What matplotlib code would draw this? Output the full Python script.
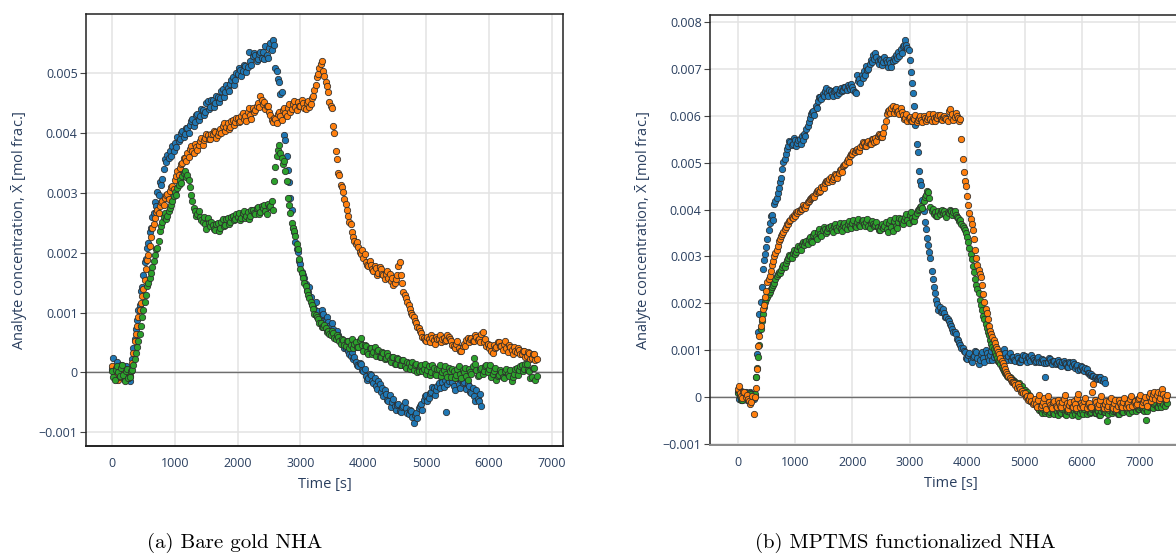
import numpy as np
import matplotlib
matplotlib.use("Agg")
from matplotlib import pyplot as plt
from matplotlib.ticker import FuncFormatter

# concentrations stored in units of 1e-3 mol frac., one sample every 20 s
SCALE = 1e-3

# ---- (a) bare gold NHA ----
t_end_a_blue = 5880
a_blue = [
    0.05, 0.24, -0.10, 0.06, 0.18, -0.08, -0.04, 0.12, 0.08, -0.02, -0.12, 0.10, 0.03, -0.06, -0.14, 0.05, 0.22, 0.40, 0.55, 0.72,
    0.88, 1.04, 1.12, 1.36, 1.42, 1.62, 1.85, 1.90, 2.08, 2.16, 2.34, 2.42, 2.60, 2.66, 2.84, 2.78, 3.02, 2.96, 3.18, 3.14,
    3.24, 3.40, 3.56, 3.52, 3.64, 3.58, 3.70, 3.62, 3.78, 3.70, 3.84, 3.76, 3.94, 3.86, 3.90, 4.00, 4.04, 3.94, 3.98, 4.08,
    4.08, 4.00, 4.14, 4.20, 4.24, 4.12, 4.18, 4.30, 4.32, 4.22, 4.28, 4.40, 4.38, 4.30, 4.36, 4.50, 4.54, 4.40, 4.44, 4.56,
    4.56, 4.44, 4.50, 4.62, 4.60, 4.52, 4.58, 4.70, 4.74, 4.60, 4.68, 4.80, 4.76, 4.70, 4.82, 4.88, 4.94, 4.80, 4.88, 5.00,
    4.98, 5.08, 5.06, 4.96, 5.04, 5.14, 5.12, 5.02, 5.10, 5.36, 5.20, 5.14, 5.28, 5.34, 5.30, 5.20, 5.24, 5.32, 5.36, 5.26,
    5.36, 5.24, 5.46, 5.30, 5.26, 5.42, 5.50, 5.38, 5.56, 5.48, 5.08, 5.04, 4.90, 4.86, 4.66, 4.68, 4.32, 3.96, 3.88, 3.62,
    3.38, 3.18, 2.92, 2.72, 2.42, 2.34, 2.18, 2.06, 2.02, 1.86, 1.82, 1.68, 1.62, 1.58, 1.48, 1.38, 1.35, 1.42, 1.26, 1.14,
    1.12, 1.06, 1.18, 1.00, 1.02, 0.94, 0.96, 1.04, 0.98, 0.86, 0.86, 0.92, 0.84, 0.78, 0.76, 0.82, 0.72, 0.66, 0.64, 0.70,
    0.62, 0.56, 0.52, 0.48, 0.48, 0.40, 0.40, 0.44, 0.36, 0.30, 0.28, 0.34, 0.22, 0.26, 0.18, 0.12, 0.10, 0.16, 0.14, 0.04,
    0.02, 0.06, -0.06, -0.12, -0.10, -0.02, -0.04, -0.14, -0.18, -0.10, -0.22, -0.28, -0.14, -0.20, -0.32, -0.26, -0.40, -0.30, -0.36, -0.46,
    -0.48, -0.38, -0.58, -0.50, -0.44, -0.56, -0.62, -0.54, -0.52, -0.64, -0.66, -0.58, -0.56, -0.50, -0.60, -0.68, -0.70, -0.62, -0.64, -0.74,
    -0.84, -0.72, -0.68, -0.76, -0.60, -0.56, -0.52, -0.62, -0.46, -0.40, -0.38, -0.48, -0.42, -0.34, -0.32, -0.24, -0.26, -0.38, -0.30, -0.22,
    -0.18, -0.26, -0.08, -0.16, -0.24, -0.12, -0.66, -0.20, -0.14, -0.06, -0.04, -0.16, -0.22, -0.30, -0.10, -0.02, -0.20, -0.26, -0.12, -0.18,
    -0.16, -0.08, -0.28, -0.20, -0.22, -0.32, -0.34, -0.26, -0.40, -0.48, -0.30, -0.44, -0.48, -0.36, -0.56,
]
t_end_a_orange = 6760
a_orange = [
    0.10, 0.02, -0.05, 0.08, 0.02, -0.12, -0.08, 0.04, 0.04, -0.06, -0.10, 0.06, 0.00, -0.10, -0.06, 0.02, 0.15, 0.32, 0.52, 0.64,
    0.78, 0.92, 1.05, 1.16, 1.28, 1.40, 1.55, 1.72, 1.88, 1.96, 2.12, 2.26, 2.42, 2.48, 2.58, 2.68, 2.72, 2.66, 2.78, 2.84,
    2.86, 2.80, 2.92, 2.96, 2.98, 2.90, 3.04, 3.10, 3.12, 3.06, 3.22, 3.28, 3.36, 3.30, 3.42, 3.48, 3.50, 3.58, 3.58, 3.54,
    3.66, 3.60, 3.74, 3.78, 3.70, 3.66, 3.82, 3.76, 3.72, 3.80, 3.86, 3.92, 3.80, 3.88, 3.92, 3.98, 3.96, 3.90, 3.90, 3.98,
    3.98, 4.04, 4.02, 3.92, 3.96, 4.02, 4.06, 4.00, 4.12, 4.16, 4.04, 4.10, 4.16, 4.06, 4.10, 4.20, 4.22, 4.14, 4.18, 4.26,
    4.26, 4.18, 4.20, 4.28, 4.34, 4.24, 4.28, 4.20, 4.36, 4.42, 4.30, 4.24, 4.42, 4.36, 4.38, 4.46, 4.50, 4.44, 4.62, 4.56,
    4.48, 4.52, 4.40, 4.46, 4.46, 4.36, 4.30, 4.22, 4.18, 4.26, 4.24, 4.16, 4.32, 4.36, 4.28, 4.22, 4.38, 4.42, 4.34, 4.28,
    4.42, 4.48, 4.36, 4.40, 4.48, 4.54, 4.44, 4.38, 4.52, 4.46, 4.46, 4.56, 4.50, 4.42, 4.40, 4.50, 4.54, 4.44, 4.48, 4.58,
    4.62, 4.72, 4.80, 4.94, 4.98, 5.08, 5.16, 5.20, 5.04, 4.96, 4.86, 4.78, 4.68, 4.52, 4.46, 4.42, 4.12, 4.00, 3.70, 3.56,
    3.34, 3.30, 3.14, 3.10, 3.02, 2.90, 2.82, 2.72, 2.62, 2.52, 2.48, 2.34, 2.26, 2.20, 2.14, 2.18, 2.10, 2.02, 1.98, 2.04,
    1.92, 1.98, 1.84, 1.80, 1.78, 1.86, 1.80, 1.72, 1.70, 1.78, 1.74, 1.62, 1.66, 1.76, 1.72, 1.64, 1.62, 1.56, 1.64, 1.70,
    1.58, 1.64, 1.52, 1.58, 1.46, 1.50, 1.56, 1.62, 1.78, 1.84, 1.62, 1.50, 1.34, 1.30, 1.24, 1.18, 1.12, 1.06, 1.00, 0.96,
    0.92, 0.86, 0.82, 0.76, 0.74, 0.70, 0.66, 0.60, 0.58, 0.54, 0.52, 0.60, 0.56, 0.50, 0.62, 0.58, 0.54, 0.48, 0.60, 0.56,
    0.56, 0.62, 0.50, 0.56, 0.58, 0.52, 0.54, 0.62, 0.60, 0.56, 0.52, 0.46, 0.44, 0.40, 0.48, 0.52, 0.40, 0.36, 0.36, 0.44,
    0.48, 0.44, 0.54, 0.58, 0.50, 0.56, 0.58, 0.52, 0.52, 0.62, 0.60, 0.54, 0.56, 0.50, 0.64, 0.68, 0.50, 0.56, 0.44, 0.48,
    0.40, 0.46, 0.36, 0.32, 0.46, 0.40, 0.42, 0.50, 0.50, 0.44, 0.44, 0.38, 0.48, 0.52, 0.40, 0.34, 0.46, 0.42, 0.38, 0.30,
    0.42, 0.36, 0.34, 0.40, 0.38, 0.30, 0.30, 0.36, 0.36, 0.26, 0.28, 0.34, 0.32, 0.22, 0.24, 0.30, 0.30, 0.20, 0.22,
]
t_end_a_green = 6760
a_green = [
    0.02, -0.08, -0.12, 0.04, 0.10, 0.00, -0.06, 0.08, 0.12, -0.04, -0.14, 0.02, 0.06, -0.10, -0.08, 0.02, 0.04, 0.12, 0.22, 0.32,
    0.42, 0.52, 0.64, 0.78, 0.92, 1.04, 1.18, 1.30, 1.44, 1.50, 1.58, 1.66, 1.76, 1.86, 1.96, 2.06, 2.08, 2.20, 2.36, 2.44,
    2.52, 2.60, 2.66, 2.56, 2.62, 2.70, 2.74, 2.80, 2.86, 2.94, 3.02, 2.96, 3.08, 3.14, 3.22, 3.16, 3.28, 3.34, 3.36, 3.26,
    3.30, 3.22, 3.10, 2.96, 2.86, 2.74, 2.70, 2.62, 2.64, 2.70, 2.60, 2.54, 2.52, 2.60, 2.48, 2.40, 2.58, 2.50, 2.44, 2.52,
    2.46, 2.40, 2.38, 2.48, 2.50, 2.36, 2.42, 2.52, 2.56, 2.44, 2.46, 2.56, 2.58, 2.48, 2.52, 2.60, 2.62, 2.54, 2.56, 2.64,
    2.60, 2.66, 2.54, 2.58, 2.66, 2.70, 2.58, 2.62, 2.68, 2.56, 2.62, 2.72, 2.72, 2.66, 2.64, 2.74, 2.76, 2.64, 2.68, 2.78,
    2.74, 2.80, 2.70, 2.64, 2.82, 2.76, 2.78, 2.86, 2.72, 3.20, 3.44, 3.62, 3.72, 3.80, 3.66, 3.58, 3.48, 3.54, 3.36, 3.20,
    2.92, 2.80, 2.66, 2.50, 2.42, 2.36, 2.28, 2.14, 2.06, 1.90, 1.72, 1.66, 1.58, 1.50, 1.44, 1.36, 1.30, 1.24, 1.18, 1.12,
    1.06, 0.98, 0.96, 0.92, 0.90, 0.82, 0.82, 0.76, 0.76, 0.80, 0.74, 0.68, 0.70, 0.64, 0.62, 0.70, 0.66, 0.58, 0.56, 0.62,
    0.60, 0.52, 0.48, 0.56, 0.54, 0.46, 0.44, 0.52, 0.52, 0.40, 0.46, 0.56, 0.40, 0.48, 0.50, 0.42, 0.42, 0.54, 0.58, 0.46,
    0.36, 0.46, 0.44, 0.34, 0.30, 0.40, 0.40, 0.30, 0.34, 0.42, 0.28, 0.36, 0.38, 0.26, 0.26, 0.34, 0.32, 0.22, 0.24, 0.32,
    0.28, 0.20, 0.18, 0.26, 0.26, 0.14, 0.14, 0.24, 0.22, 0.12, 0.12, 0.20, 0.20, 0.10, 0.08, 0.18, 0.16, 0.06, 0.10, 0.18,
    0.04, 0.12, 0.14, 0.00, 0.02, 0.10, 0.12, 0.02, 0.06, 0.14, -0.02, 0.04, 0.10, -0.04, 0.00, 0.12, 0.08, -0.02, -0.04, 0.06,
    0.06, 0.12, -0.06, 0.00, 0.04, 0.10, -0.02, -0.08, 0.08, 0.02, -0.08, 0.06, 0.02, -0.10, -0.04, 0.06, 0.10, -0.02, -0.10, 0.04,
    0.00, 0.08, -0.06, -0.12, 0.06, 0.00, -0.02, 0.10, 0.24, 0.14, 0.04, -0.06, -0.04, 0.06, 0.08, -0.02, 0.02, 0.10, 0.12, 0.00,
    0.06, 0.12, -0.08, -0.02, 0.02, 0.08, -0.12, -0.06, -0.04, 0.04, 0.00, -0.08, -0.10, 0.02, 0.06, -0.02, -0.06, 0.04, -0.14, -0.08,
    -0.02, 0.06, 0.08, -0.04, 0.04, 0.10, 0.12, 0.02, 0.06, 0.14, 0.14, 0.04, 0.02, -0.10, -0.08, 0.08, 0.08, -0.12, -0.06,
]

# ---- (b) MPTMS functionalized NHA ----
t_end_b_blue = 6400
b_blue = [
    0.10, -0.04, 0.04, 0.14, -0.06, 0.02, 0.08, 0.12, -0.06, 0.00, 0.04, 0.10, -0.02, 0.06, -0.04, 0.02, 0.44, 0.92, 1.40, 1.78,
    2.02, 2.36, 2.74, 2.92, 3.06, 3.20, 3.38, 3.56, 3.72, 3.86, 3.88, 3.78, 4.12, 4.18, 4.24, 4.36, 4.46, 4.58, 4.68, 4.86,
    5.02, 5.08, 5.18, 5.30, 5.36, 5.46, 5.44, 5.38, 5.40, 5.52, 5.48, 5.36, 5.42, 5.48, 5.50, 5.40, 5.56, 5.48, 5.62, 5.56,
    5.72, 5.78, 5.86, 5.96, 6.04, 6.08, 6.10, 6.02, 6.22, 6.16, 6.32, 6.40, 6.40, 6.36, 6.46, 6.42, 6.52, 6.60, 6.48, 6.42,
    6.56, 6.52, 6.46, 6.42, 6.52, 6.56, 6.58, 6.44, 6.48, 6.56, 6.60, 6.52, 6.54, 6.62, 6.62, 6.56, 6.66, 6.62, 6.58, 6.68,
    6.62, 6.54, 6.50, 6.48, 6.88, 6.74, 6.78, 6.70, 6.86, 6.80, 6.96, 6.86, 7.06, 6.98, 7.00, 7.10, 7.18, 7.14, 7.30, 7.22,
    7.34, 7.26, 7.16, 7.10, 7.22, 7.18, 7.08, 7.14, 7.26, 7.20, 7.14, 7.04, 7.20, 7.12, 7.04, 7.16, 7.24, 7.18, 7.30, 7.24,
    7.36, 7.28, 7.42, 7.34, 7.48, 7.52, 7.62, 7.50, 7.44, 7.40, 7.18, 6.94, 6.70, 6.48, 6.22, 5.80, 5.40, 5.22, 4.82, 4.60,
    4.52, 4.20, 3.96, 3.74, 3.58, 3.40, 3.24, 3.10, 2.96, 2.70, 2.52, 2.36, 2.22, 2.08, 1.98, 1.86, 1.92, 1.82, 1.84, 1.88,
    1.80, 1.72, 1.70, 1.66, 1.62, 1.56, 1.52, 1.46, 1.40, 1.38, 1.34, 1.24, 1.22, 1.16, 1.12, 1.04, 1.04, 0.98, 0.96, 0.84,
    0.82, 0.90, 0.94, 0.80, 0.76, 0.86, 0.88, 0.98, 0.96, 0.84, 0.70, 0.80, 0.92, 0.96, 0.84, 0.76, 1.00, 0.94, 0.86, 0.80,
    0.90, 0.98, 0.80, 0.86, 0.96, 0.90, 0.86, 0.78, 0.78, 0.84, 0.92, 0.86, 1.02, 0.94, 0.84, 0.80, 0.88, 0.94, 0.80, 0.86,
    0.86, 0.80, 0.78, 0.88, 0.84, 0.76, 0.74, 0.82, 0.82, 0.90, 0.88, 0.80, 0.76, 0.86, 0.84, 0.78, 0.90, 0.84, 0.80, 0.74,
    0.78, 0.84, 0.86, 0.76, 0.74, 0.82, 0.80, 0.72, 0.44, 0.72, 0.76, 0.84, 0.82, 0.74, 0.70, 0.78, 0.78, 0.70, 0.72, 0.80,
    0.74, 0.68, 0.66, 0.76, 0.78, 0.72, 0.70, 0.64, 0.64, 0.74, 0.72, 0.66, 0.76, 0.70, 0.62, 0.66, 0.68, 0.58, 0.60, 0.66,
    0.64, 0.58, 0.56, 0.62, 0.60, 0.52, 0.52, 0.48, 0.50, 0.46, 0.46, 0.40, 0.44, 0.38, 0.40, 0.44, 0.42, 0.36, 0.34, 0.38,
    0.30,
]
t_end_b_orange = 7480
b_orange = [
    0.18, 0.24, 0.08, 0.02, -0.02, 0.10, 0.12, 0.00, 0.04, -0.04, -0.08, -0.14, -0.10, 0.02, -0.35, 0.00, 0.20, 0.60, 1.10, 1.30,
    1.52, 1.66, 1.88, 1.96, 2.14, 2.26, 2.46, 2.52, 2.58, 2.70, 2.82, 2.90, 3.02, 3.08, 3.14, 3.22, 3.32, 3.38, 3.44, 3.48,
    3.52, 3.58, 3.62, 3.70, 3.70, 3.76, 3.78, 3.84, 3.82, 3.88, 3.86, 3.94, 3.92, 3.98, 3.96, 4.02, 4.02, 4.10, 4.06, 4.04,
    4.10, 4.16, 4.18, 4.22, 4.24, 4.26, 4.30, 4.26, 4.36, 4.40, 4.42, 4.38, 4.40, 4.48, 4.50, 4.46, 4.56, 4.60, 4.62, 4.58,
    4.66, 4.70, 4.60, 4.66, 4.70, 4.76, 4.74, 4.68, 4.78, 4.84, 4.86, 4.80, 4.92, 4.96, 4.98, 5.04, 5.08, 5.02, 5.14, 5.18,
    5.18, 5.24, 5.22, 5.28, 5.30, 5.24, 5.26, 5.34, 5.38, 5.44, 5.42, 5.36, 5.36, 5.44, 5.46, 5.40, 5.40, 5.50, 5.50, 5.44,
    5.52, 5.46, 5.58, 5.62, 5.60, 5.54, 5.54, 5.64, 5.76, 5.90, 6.04, 6.10, 6.12, 6.06, 6.16, 6.20, 6.06, 6.14, 6.18, 6.08,
    6.10, 6.04, 6.16, 6.08, 6.02, 5.94, 5.96, 6.04, 5.90, 5.96, 5.98, 5.88, 5.88, 5.96, 5.94, 6.02, 5.86, 5.92, 5.96, 6.00,
    5.92, 5.86, 6.00, 5.96, 5.88, 5.94, 5.98, 6.04, 5.94, 5.90, 6.04, 5.96, 5.90, 5.98, 5.96, 6.02, 6.02, 5.94, 5.92, 5.98,
    6.00, 5.96, 5.94, 5.88, 6.10, 6.14, 5.98, 6.04, 5.92, 5.98, 6.06, 6.00, 5.96, 5.90, 5.94, 5.50, 5.08, 4.80, 4.62, 4.50,
    4.28, 4.10, 3.92, 3.80, 3.70, 3.56, 3.38, 3.14, 2.96, 2.82, 2.72, 2.62, 2.56, 2.40, 2.20, 2.04, 1.88, 1.80, 1.66, 1.52,
    1.42, 1.34, 1.28, 1.22, 1.16, 1.08, 1.02, 0.96, 0.92, 0.84, 0.78, 0.72, 0.66, 0.60, 0.54, 0.50, 0.46, 0.40, 0.36, 0.32,
    0.32, 0.30, 0.26, 0.20, 0.28, 0.22, 0.18, 0.10, 0.14, 0.08, 0.08, 0.00, 0.02, -0.06, -0.04, 0.02, -0.08, -0.14, -0.12, -0.04,
    -0.14, -0.20, -0.06, 0.04, -0.22, -0.16, -0.10, -0.02, -0.18, -0.26, 0.02, -0.10, -0.16, -0.22, -0.24, -0.10, -0.08, -0.18, -0.20, -0.06,
    -0.12, -0.18, -0.22, -0.10, -0.04, 0.04, -0.18, -0.12, -0.26, -0.16, -0.10, -0.22, -0.20, -0.08, -0.14, -0.24, -0.02, 0.06, -0.22, -0.12,
    -0.16, -0.22, -0.08, -0.02, -0.24, -0.14, -0.12, -0.20, -0.20, 0.12, 0.28, -0.06, -0.10, -0.18, -0.22, -0.14, -0.06, 0.02, -0.18, -0.24,
    -0.14, -0.08, -0.24, -0.18, -0.08, -0.02, -0.20, -0.24, -0.12, -0.06, -0.26, -0.18, -0.06, -0.12, -0.18, -0.22, -0.10, -0.02, -0.22, -0.14,
    -0.12, -0.20, -0.04, 0.02, -0.18, -0.10, -0.08, -0.16, -0.14, -0.04, -0.02, 0.04, -0.16, -0.10, -0.06, 0.00, -0.12, -0.18, 0.02, 0.08,
    -0.08, -0.02, 0.06, 0.12, -0.04, 0.04, 0.10, -0.06, -0.02, 0.08, 0.18, 0.06, 0.00, -0.04, 0.04,
]
t_end_b_green = 7480
b_green = [
    0.08, 0.14, 0.02, -0.06, -0.06, 0.04, 0.10, 0.02, 0.04, -0.04, -0.02, 0.08, 0.06, -0.04, 0.00, 0.06, 0.42, 0.62, 0.85, 1.12,
    1.46, 1.62, 1.78, 1.92, 2.04, 2.10, 2.14, 2.20, 2.24, 2.30, 2.36, 2.40, 2.44, 2.52, 2.58, 2.62, 2.66, 2.64, 2.72, 2.78,
    2.82, 2.78, 2.86, 2.92, 2.96, 3.04, 3.00, 2.96, 3.08, 3.14, 3.06, 3.10, 3.16, 3.22, 3.20, 3.14, 3.26, 3.30, 3.24, 3.30,
    3.32, 3.26, 3.38, 3.42, 3.34, 3.30, 3.46, 3.50, 3.42, 3.38, 3.52, 3.58, 3.48, 3.44, 3.56, 3.62, 3.58, 3.50, 3.54, 3.60,
    3.62, 3.66, 3.56, 3.52, 3.64, 3.70, 3.60, 3.56, 3.66, 3.72, 3.58, 3.54, 3.68, 3.72, 3.62, 3.58, 3.70, 3.76, 3.64, 3.60,
    3.72, 3.78, 3.66, 3.62, 3.74, 3.80, 3.68, 3.64, 3.76, 3.78, 3.70, 3.64, 3.74, 3.80, 3.66, 3.60, 3.72, 3.76, 3.70, 3.64,
    3.68, 3.74, 3.62, 3.56, 3.56, 3.66, 3.70, 3.60, 3.64, 3.74, 3.58, 3.52, 3.72, 3.78, 3.62, 3.54, 3.76, 3.82, 3.66, 3.60,
    3.74, 3.82, 3.80, 3.72, 3.70, 3.78, 3.84, 3.90, 3.78, 3.72, 3.88, 3.94, 3.82, 3.76, 3.76, 3.86, 3.92, 4.00, 4.02, 4.06,
    4.08, 4.04, 4.18, 4.26, 4.32, 4.40, 4.38, 4.24, 4.06, 3.98, 4.02, 3.90, 3.94, 3.86, 3.86, 3.96, 3.90, 3.98, 4.00, 3.92,
    3.96, 3.90, 3.84, 3.94, 3.92, 4.00, 3.98, 3.88, 3.94, 3.98, 3.88, 3.84, 3.82, 3.76, 3.78, 3.70, 3.66, 3.60, 3.56, 3.50,
    3.42, 3.30, 3.18, 3.06, 2.94, 2.80, 2.66, 2.52, 2.40, 2.30, 2.22, 2.08, 1.96, 1.86, 1.74, 1.66, 1.56, 1.48, 1.40, 1.32,
    1.22, 1.14, 1.08, 1.02, 0.96, 0.90, 0.84, 0.78, 0.74, 0.70, 0.64, 0.60, 0.56, 0.52, 0.50, 0.46, 0.42, 0.44, 0.40, 0.36,
    0.36, 0.34, 0.32, 0.26, 0.28, 0.30, 0.22, 0.20, 0.24, 0.14, 0.16, 0.06, 0.10, 0.00, 0.04, -0.08, -0.04, -0.12, -0.10, -0.14,
    -0.16, -0.22, -0.24, -0.28, -0.30, -0.34, -0.26, -0.22, -0.34, -0.30, -0.28, -0.36, -0.32, -0.24, -0.26, -0.34, -0.36, -0.28, -0.30, -0.38,
    -0.28, -0.32, -0.34, -0.26, -0.26, -0.36, -0.38, -0.30, -0.30, -0.24, -0.32, -0.38, -0.24, -0.30, -0.36, -0.28, -0.28, -0.40, -0.34, -0.26,
    -0.30, -0.36, -0.26, -0.22, -0.36, -0.30, -0.28, -0.34, -0.32, -0.26, -0.24, -0.34, -0.34, -0.28, -0.30, -0.38, -0.38, -0.30, -0.26, -0.32,
    -0.32, -0.28, -0.50, -0.36, -0.28, -0.24, -0.34, -0.30, -0.22, -0.30, -0.30, -0.36, -0.36, -0.28, -0.26, -0.32, -0.32, -0.22, -0.24, -0.30,
    -0.28, -0.34, -0.20, -0.26, -0.30, -0.22, -0.24, -0.30, -0.18, -0.26, -0.26, -0.20, -0.22, -0.28, -0.30, -0.24, -0.48, -0.30, -0.20, -0.14,
    -0.16, -0.22, -0.24, -0.14, -0.12, -0.20, -0.20, -0.10, -0.14, -0.22, -0.08, -0.14, -0.18, -0.10, -0.12,
]

x_ticks = [0, 1000, 2000, 3000, 4000, 5000, 6000, 7000]
y_ticks_a = [-0.001, 0, 0.001, 0.002, 0.003, 0.004, 0.005]
y_ticks_b = [-0.001, 0, 0.001, 0.002, 0.003, 0.004, 0.005, 0.006, 0.007, 0.008]

BLUE, ORANGE, GREEN = "#1f77b4", "#ff7f0e", "#2ca02c"
TEXT = "#2a3f5f"

plt.rcParams["font.family"] = ["Open Sans", "DejaVu Sans"]
plt.rcParams["mathtext.fontset"] = "custom"
plt.rcParams["mathtext.rm"] = "Open Sans"
plt.rcParams["mathtext.it"] = "Open Sans"


def y_fmt(v, pos):
    if abs(v) < 1e-12:
        return "0"
    return ("%.3f" % v).replace("-", "\u2212")


def x_fmt(v, pos):
    return "%d" % v


def style_axes(ax, xlim, ylim, yticks, bottom_col):
    ax.set_xlim(*xlim)
    ax.set_ylim(*ylim)
    ax.set_xticks(x_ticks)
    ax.set_yticks(yticks)
    ax.xaxis.set_major_formatter(FuncFormatter(x_fmt))
    ax.yaxis.set_major_formatter(FuncFormatter(y_fmt))
    ax.grid(True, color="#e3e3e3", linewidth=1.1, zorder=0)
    ax.set_axisbelow(True)
    ax.axhline(0, color="#6e6e6e", linewidth=1.0, zorder=1)
    for s in ["top", "left", "right"]:
        ax.spines[s].set_color("#222222")
        ax.spines[s].set_linewidth(1.1)
    ax.spines["bottom"].set_color(bottom_col)
    ax.spines["bottom"].set_linewidth(1.4)
    ax.tick_params(axis="y", length=4, width=0.8, color="#444444",
                   labelsize=9, labelcolor=TEXT, pad=2)
    ax.tick_params(axis="x", length=0, labelsize=9, labelcolor=TEXT, pad=8)
    ax.set_xlabel("Time [s]", fontsize=10.5, color=TEXT, labelpad=5)
    ax.set_ylabel(r"Analyte concentration, $\mathrm{\bar{X}}$ [mol frac.]",
                  fontsize=10.5, color=TEXT, labelpad=6)


def dots(ax, t_end, vals, col, z):
    y = np.array(vals) * SCALE
    t = np.linspace(0, t_end, len(y))
    ax.scatter(t, y, s=21, c=col, edgecolors="#2b2b2b", linewidths=0.55,
               zorder=z)


fig = plt.figure(figsize=(11.76, 5.6), dpi=100)

ax1 = fig.add_axes([86 / 1176, 1 - 446 / 560, 477 / 1176, 432 / 560])
style_axes(ax1, (-415, 7180), (-0.00123, 0.00599), y_ticks_a, "#222222")
dots(ax1, t_end_a_blue, a_blue, BLUE, 2)
dots(ax1, t_end_a_orange, a_orange, ORANGE, 3)
dots(ax1, t_end_a_green, a_green, GREEN, 4)

ax2 = fig.add_axes([710 / 1176, 1 - 445 / 560, 481 / 1176, 430 / 560])
style_axes(ax2, (-480, 7900), (-0.00102, 0.00815), y_ticks_b, "#8a8a8a")
dots(ax2, t_end_b_blue, b_blue, BLUE, 2)
dots(ax2, t_end_b_green, b_green, GREEN, 3)
dots(ax2, t_end_b_orange, b_orange, ORANGE, 4)

fig.text(235 / 1176, 1 - 543 / 560, "(a) Bare gold NHA", ha="center",
         va="center", fontsize=15, family="cmr10")
fig.text(905 / 1176, 1 - 543 / 560, "(b) MPTMS functionalized NHA",
         ha="center", va="center", fontsize=15, family="cmr10")

fig.savefig("out.png", dpi=100)
